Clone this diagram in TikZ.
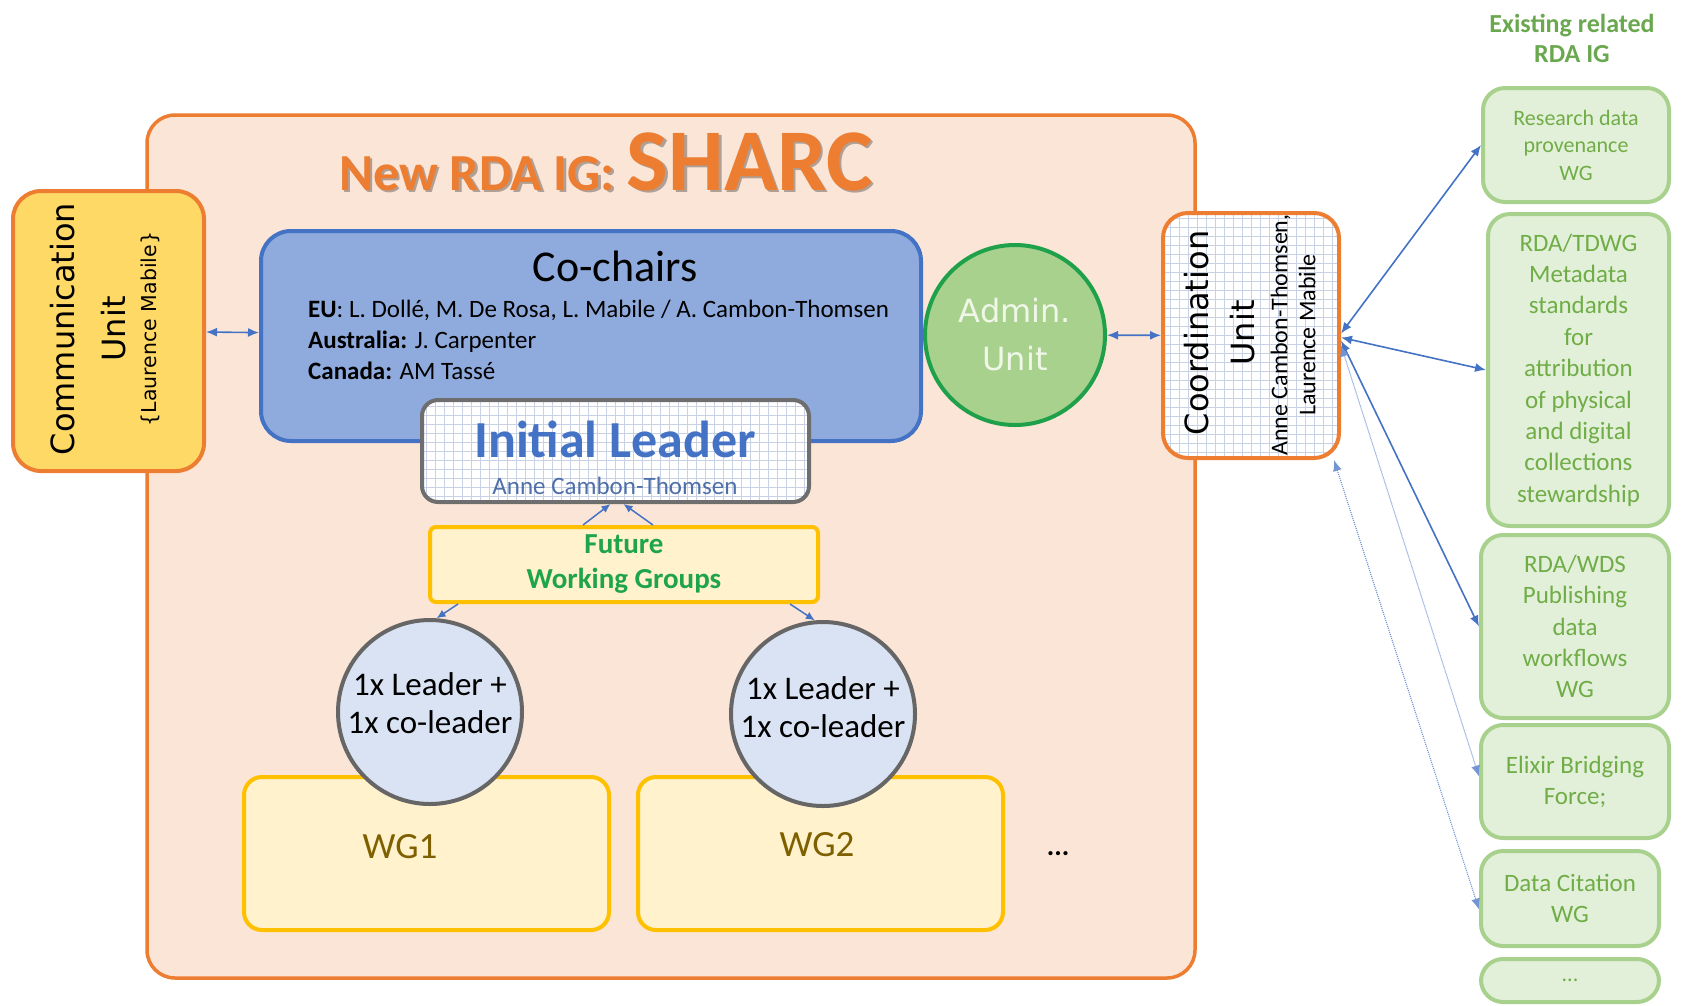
\documentclass[tikz,border=0pt]{standalone}
\usepackage{fontspec}
\setmainfont{Carlito}
\newfontfamily\unitfont{DejaVu Sans}
\usetikzlibrary{arrows.meta}

\definecolor{igFill}{HTML}{FBE5D6}
\definecolor{igOrange}{HTML}{ED7D31}
\definecolor{commFill}{HTML}{FFD966}
\definecolor{chairFill}{HTML}{8FAADC}
\definecolor{chairBlue}{HTML}{4472C4}
\definecolor{adminFill}{HTML}{A9D18E}
\definecolor{adminGreen}{HTML}{1FA04A}
\definecolor{adminText}{HTML}{F0F7E8}
\definecolor{gridColor}{HTML}{C8D2E4}
\definecolor{leaderGray}{HTML}{6E6E6E}
\definecolor{leaderName}{HTML}{4E6FA8}
\definecolor{wgFill}{HTML}{FFF2CC}
\definecolor{wgYellow}{HTML}{FFC000}
\definecolor{wgText}{HTML}{7F6000}
\definecolor{futureGreen}{HTML}{1EA44A}
\definecolor{headFill}{HTML}{DAE3F3}
\definecolor{headGray}{HTML}{666666}
\definecolor{relFill}{HTML}{E2F0D9}
\definecolor{relBorder}{HTML}{A9D18E}
\definecolor{relText}{HTML}{70AD47}
\definecolor{relTitle}{HTML}{6AA84F}
\definecolor{arrowBlue}{HTML}{4472C4}

\newcommand{\fsize}[2]{\fontsize{#1}{#2}\selectfont}

\tikzset{
  gridded/.style={path picture={\draw[gridColor, line width=0.6pt]
      (path picture bounding box.south west) grid[step=9pt] (path picture bounding box.north east);}},
  igbox/.style={shape=rectangle, draw=igOrange, fill=igFill, line width=3.5pt, rounded corners=28pt},
  commbox/.style={shape=rectangle, draw=igOrange, fill=commFill, line width=4pt, rounded corners=28pt},
  chairbox/.style={shape=rectangle, draw=chairBlue, fill=chairFill, line width=4pt, rounded corners=30pt},
  adminunit/.style={shape=circle, draw=adminGreen, fill=adminFill, line width=4pt, inner sep=0pt},
  coordbox/.style={shape=rectangle, draw=igOrange, fill=white, line width=4pt, rounded corners=25pt, gridded},
  leaderbox/.style={shape=rectangle, draw=leaderGray, fill=white, line width=4pt, rounded corners=16pt, gridded},
  futurebox/.style={shape=rectangle, draw=wgYellow, fill=wgFill, line width=4pt, rounded corners=6pt},
  headcircle/.style={shape=circle, draw=headGray, fill=headFill, line width=4pt, minimum size=184pt, inner sep=0pt},
  wgbox/.style={shape=rectangle, draw=wgYellow, fill=wgFill, line width=4pt, rounded corners=18pt},
  relbox/.style={shape=rectangle, draw=relBorder, fill=relFill, line width=4pt, rounded corners=22pt,
      text=relText, align=center, inner sep=0pt},
  biarrow/.style={draw=arrowBlue, line width=1.6pt, {Latex[length=11pt,width=9pt]}-{Latex[length=11pt,width=9pt]}},
  dotlink/.style={biarrow, draw=arrowBlue!75, line width=1.1pt, densely dotted},
  uparrow/.style={draw=arrowBlue, line width=1.5pt, -{Latex[length=9pt,width=8pt]}},
}

\begin{document}
\begin{tikzpicture}[x=1pt, y=-1pt]
  \useasboundingbox (0,0) rectangle (1685,1005);

  \node[igbox, minimum width=1048pt, minimum height=863pt] (IG) at (671,546.5) {};

  \node[anchor=base, text=black, opacity=0.3, font=\bfseries\fsize{52}{60}] (Tshadow) at (608.5,192.5) {New RDA IG: {\fsize{88}{90}SHARC}};
  \node[anchor=base, text=igOrange, font=\bfseries\fsize{52}{60}] (T) at (606,190) {New RDA IG: {\fsize{88}{90}SHARC}};

  % communication unit
  \node[commbox, minimum width=191pt, minimum height=280pt] (CU) at (108.5,331) {};
  \node[rotate=90, align=center, font=\unitfont\fsize{32}{51}] (CUtitle) at (88,329) {Communication\\Unit};
  \node[rotate=90, font=\unitfont\fsize{20.5}{23}] (CUname) at (150,329) {\{Laurence Mabile\}};

  % co-chairs
  \node[chairbox, minimum width=660pt, minimum height=210pt] (CC) at (591,336) {};
  \node[anchor=base, font=\fsize{44}{50}] (CCtitle) at (615,281) {Co-chairs};
  \node[anchor=north west, align=left, inner sep=0pt, font=\fsize{25}{31}] (CCnames) at (308,300)
      {\textbf{EU}: L. Dollé, M. De Rosa, L. Mabile / A. Cambon-Thomsen\\
       \textbf{Australia:} J. Carpenter\\
       \textbf{Canada:} AM Tassé};

  \node[adminunit, minimum size=180pt, align=center, text=adminText, font=\unitfont\fsize{32}{48}] (AU) at (1015,335) {Admin.\\Unit};

  % coordination unit
  \node[coordbox, minimum width=176pt, minimum height=245pt] (CO) at (1251,335.5) {};
  \node[rotate=90, align=center, font=\unitfont\fsize{32}{46}] (COtitle) at (1220,333) {Coordination\\Unit};
  \node[rotate=90, align=center, font=\fsize{24}{28}] (COnames) at (1293,335) {Anne Cambon-Thomsen,\\Laurence Mabile};

  \node[leaderbox, minimum width=387pt, minimum height=102pt] (IL) at (615.5,451) {};
  \node[anchor=base, text=chairBlue, font=\bfseries\fsize{52}{56}] (ILtitle) at (615,457) {Initial Leader};
  \node[anchor=base, text=leaderName, font=\fsize{25}{28}] (ILname) at (615,494) {Anne Cambon-Thomsen};

  \node[futurebox, minimum width=388pt, minimum height=75pt, align=center, text=futureGreen,
        font=\bfseries\fsize{29}{35}] (FW) at (624,564.5) {Future\\Working Groups};

  % working groups
  \node[wgbox, minimum width=365pt, minimum height=153pt] (W1) at (426.5,853.5) {};
  \node[wgbox, minimum width=365pt, minimum height=153pt] (W2) at (820.5,853.5) {};
  \node[text=wgText, font=\fsize{37}{40}] (W1text) at (400,847) {WG1};
  \node[text=wgText, font=\fsize{37}{40}] (W2text) at (817,845) {WG2};
  \node[font=\bfseries\fsize{28}{30}] (Wmore) at (1058,854) {...};

  \node[headcircle] (L1) at (430,712) {};
  \node[headcircle] (L2) at (823,714) {};
  \node[align=center, font=\fsize{33}{38}] (L1text) at (430,703) {1x Leader +\\1x co-leader};
  \node[align=center, font=\fsize{33}{38}] (L2text) at (823,707) {1x Leader +\\1x co-leader};

  % existing related groups
  \node[align=center, text=relTitle, font=\bfseries\fsize{26}{30}] (ER) at (1572,38) {Existing related\\RDA IG};
  \node[relbox, minimum width=186pt, minimum height=114pt, font=\fsize{22}{27.5}] (E1) at (1576,145) {Research data\\provenance\\WG};
  \node[relbox, minimum width=181pt, minimum height=312pt, font=\fsize{25}{31.4}] (E2) at (1578.5,370)
      {RDA/TDWG\\Metadata\\standards\\for\\attribution\\of physical\\and digital\\collections\\stewardship};
  \node[relbox, minimum width=188pt, minimum height=183pt, font=\fsize{25}{31.4}] (E3) at (1575,626.5) {RDA/WDS\\Publishing\\data\\workflows\\WG};
  \node[relbox, minimum width=188pt, minimum height=113pt, font=\fsize{25}{31}] (E4) at (1575,781.5) {Elixir Bridging\\Force;};
  \node[relbox, minimum width=178pt, minimum height=95pt, font=\fsize{25}{31}] (E5) at (1570,898.5) {Data Citation\\WG};
  \node[relbox, minimum width=178pt, minimum height=43pt, font=\fsize{22}{24}] (E6) at (1570,980.5) {...};

  \draw[biarrow] (CU) -- (CC);
  \draw[biarrow] (AU) -- (CO);

  \draw[biarrow] ([yshift=2pt]CO.east) -- (E1.west);
  \draw[biarrow] ([yshift=-2pt]CO.east) -- (E2.west);
  \draw[biarrow] ([yshift=-5pt]CO.east) -- (E3.west);
  \draw[dotlink] ([yshift=-10pt]CO.east) -- ([yshift=5pt]E4.west);
  \draw[dotlink] ([xshift=-7pt]CO.south east) -- ([yshift=-11pt]E5.west);

  \draw[uparrow] ([xshift=-41pt]FW.north) -- ([xshift=-5pt]IL.south);
  \draw[uparrow] ([xshift=29pt]FW.north) -- ([xshift=8pt]IL.south);
  \draw[uparrow] ([xshift=-166pt]FW.south) -- (L1.86);
  \draw[uparrow] ([xshift=166pt]FW.south) -- (L2.95);
\end{tikzpicture}
\end{document}
